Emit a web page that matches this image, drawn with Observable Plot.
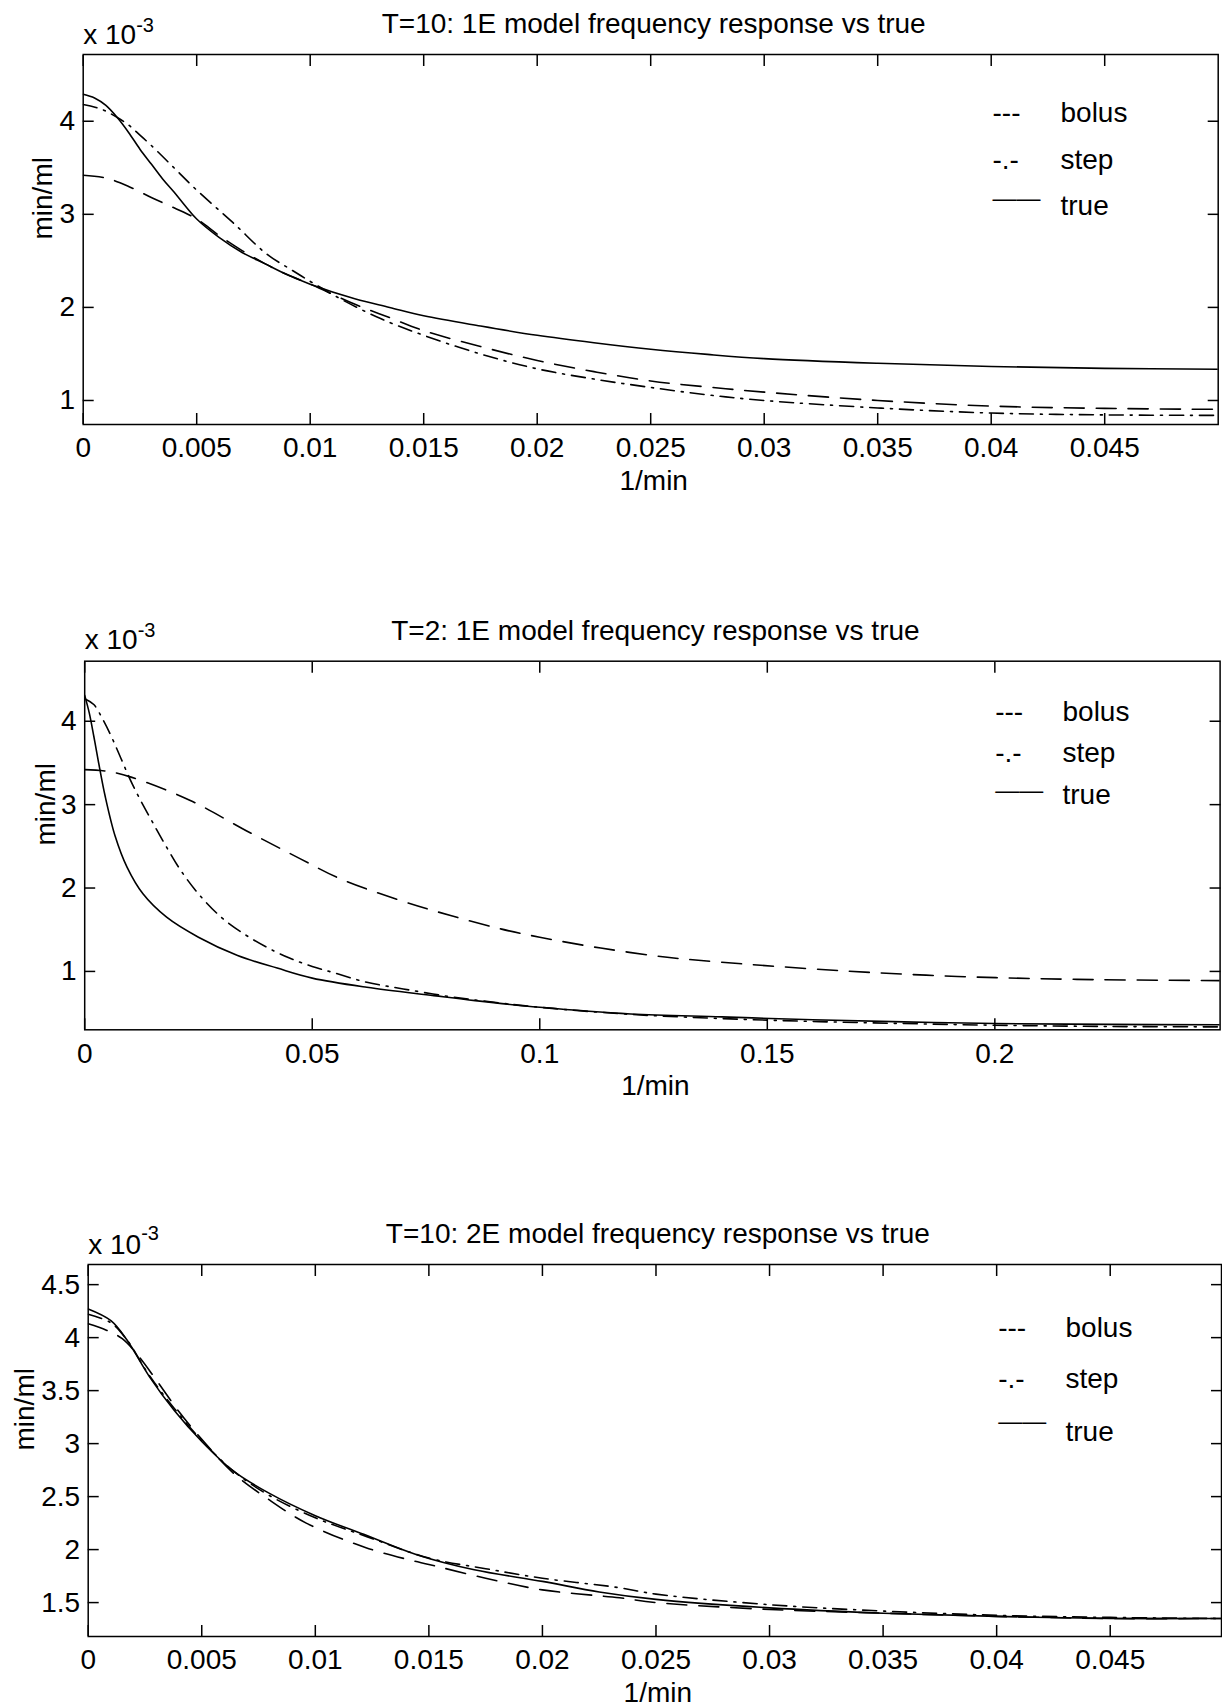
<!DOCTYPE html>
<html><head><meta charset="utf-8">
<script src="https://cdn.jsdelivr.net/npm/d3@7"></script>
<script src="https://cdn.jsdelivr.net/npm/@observablehq/plot@0.6"></script>
<style>
html,body{margin:0;padding:0;background:#fff;}
#chart{width:1222px;height:1706px;overflow:hidden;}
#chart svg{display:block;}
</style></head><body><div id="chart"></div>
<script>
// ---------- data (x in 1/min, y in 10^-3 min/ml) ----------
const seriesNames = ["bolus", "step", "true"];
const legendSymbols = ["---", "-.-"];

const titles = [
  "T=10: 1E model frequency response vs true",
  "T=2: 1E model frequency response vs true",
  "T=10: 2E model frequency response vs true"
];

const xTicks1 = [0, 0.005, 0.01, 0.015, 0.02, 0.025, 0.03, 0.035, 0.04, 0.045];
const xTicks2 = [0, 0.05, 0.1, 0.15, 0.2];
const xTicks3 = [0, 0.005, 0.01, 0.015, 0.02, 0.025, 0.03, 0.035, 0.04, 0.045];
const yTicks1 = [1, 2, 3, 4];
const yTicks2 = [1, 2, 3, 4];
const yTicks3 = [1.5, 2, 2.5, 3, 3.5, 4, 4.5];

// Panel 1: T=10, 1E model
const p1True = [[0,4.29],[0.0005,4.25],[0.001,4.17],[0.0015,4.04],[0.002,3.88],[0.0025,3.70],[0.003,3.54],[0.0035,3.38],[0.004,3.24],[0.0045,3.09],[0.005,2.95],[0.006,2.75],[0.007,2.59],[0.008,2.47],[0.009,2.35],[0.01,2.25],[0.012,2.09],[0.0135,2.00],[0.015,1.91],[0.0175,1.80],[0.02,1.70],[0.0225,1.62],[0.025,1.55],[0.0275,1.495],[0.03,1.45],[0.035,1.40],[0.04,1.365],[0.045,1.345],[0.05,1.335]];
const p1Bolus = [[0,3.42],[0.001,3.39],[0.002,3.30],[0.003,3.18],[0.004,3.07],[0.005,2.95],[0.006,2.77],[0.007,2.61],[0.008,2.47],[0.009,2.35],[0.01,2.25],[0.012,2.03],[0.0135,1.89],[0.015,1.75],[0.0175,1.58],[0.02,1.43],[0.0225,1.31],[0.025,1.21],[0.0275,1.145],[0.03,1.09],[0.035,1.00],[0.04,0.94],[0.045,0.915],[0.05,0.905]];
const p1Step = [[0,4.18],[0.0008,4.13],[0.0015,4.04],[0.002,3.96],[0.0025,3.85],[0.003,3.74],[0.004,3.50],[0.005,3.26],[0.0066,2.91],[0.0081,2.57],[0.0092,2.40],[0.0102,2.25],[0.0115,2.07],[0.0131,1.88],[0.015,1.70],[0.0175,1.50],[0.02,1.34],[0.0225,1.23],[0.025,1.14],[0.0275,1.06],[0.03,1.00],[0.035,0.92],[0.04,0.865],[0.045,0.845],[0.05,0.84]];

// Panel 2: T=2, 1E model
const p2True = [[0,4.31],[0.001,4.10],[0.002,3.82],[0.003,3.52],[0.0045,3.10],[0.0067,2.62],[0.0093,2.25],[0.0128,1.93],[0.018,1.65],[0.025,1.41],[0.0336,1.19],[0.0423,1.04],[0.05,0.92],[0.062,0.81],[0.0767,0.71],[0.0858,0.65],[0.1,0.57],[0.12,0.49],[0.14,0.455],[0.16,0.42],[0.18,0.395],[0.2,0.375],[0.225,0.365],[0.2495,0.36]];
const p2Bolus = [[0,3.42],[0.005,3.40],[0.0102,3.33],[0.0232,3.05],[0.0354,2.69],[0.0474,2.35],[0.0562,2.11],[0.0694,1.85],[0.0804,1.67],[0.0914,1.51],[0.1,1.41],[0.1134,1.28],[0.128,1.17],[0.14,1.11],[0.1657,1.01],[0.1918,0.94],[0.218,0.905],[0.2495,0.89]];
const p2Step = [[0,4.27],[0.002,4.20],[0.004,4.02],[0.006,3.80],[0.008,3.55],[0.01,3.30],[0.012,3.08],[0.015,2.78],[0.018,2.49],[0.021,2.22],[0.025,1.93],[0.03,1.65],[0.035,1.45],[0.04,1.29],[0.045,1.16],[0.05,1.06],[0.055,0.98],[0.062,0.87],[0.07,0.79],[0.08,0.70],[0.09,0.63],[0.1,0.57],[0.12,0.485],[0.14,0.435],[0.16,0.40],[0.18,0.375],[0.2,0.355],[0.225,0.34],[0.2495,0.335]];

// Panel 3: T=10, 2E model
const p3True = [[0,4.27],[0.001,4.16],[0.0017,3.98],[0.0027,3.63],[0.0038,3.31],[0.005,3.02],[0.0064,2.74],[0.0079,2.54],[0.01,2.32],[0.0123,2.13],[0.0145,1.95],[0.017,1.81],[0.02,1.70],[0.0225,1.60],[0.025,1.53],[0.03,1.45],[0.035,1.40],[0.04,1.37],[0.045,1.35],[0.0499,1.35]];
const p3Bolus = [[0,4.13],[0.0008,4.07],[0.0015,3.99],[0.0022,3.83],[0.003,3.60],[0.004,3.30],[0.005,3.04],[0.0064,2.72],[0.0079,2.48],[0.0096,2.25],[0.0122,2.02],[0.0142,1.90],[0.015,1.86],[0.0175,1.73],[0.02,1.62],[0.0234,1.545],[0.025,1.50],[0.03,1.435],[0.035,1.40],[0.04,1.37],[0.045,1.35],[0.0499,1.35]];
const p3Step = [[0,4.22],[0.001,4.14],[0.0017,3.98],[0.0027,3.64],[0.0038,3.33],[0.005,3.03],[0.0064,2.74],[0.0079,2.52],[0.01,2.30],[0.0123,2.12],[0.015,1.92],[0.0175,1.82],[0.02,1.73],[0.0234,1.64],[0.025,1.58],[0.03,1.48],[0.035,1.42],[0.04,1.38],[0.045,1.36],[0.0499,1.35]];

// ---------- layout ----------
const FONT = '"Liberation Sans", Arial, Helvetica, sans-serif';
const panels = [
  {title: titles[0], truth: p1True, bolus: p1Bolus, step: p1Step, xTicks: xTicks1, yTicks: yTicks1,
   xDomain: [0, 0.05], yDomain: [0.742, 4.717], height: 560, mt: 54, mb: 136, ml: 82.7, mr: 4.3,
   ylDx: -40, x10Dy: -11, supDy: -23, lgS: -225.7, lgT: -157.7, lgY: [67, 114.3, 160.3], lgLine: 151.5},
  {title: titles[1], truth: p2True, bolus: p2Bolus, step: p2Step, xTicks: xTicks2, yTicks: yTicks2,
   xDomain: [0, 0.2495], yDomain: [0.30, 4.72], height: 600, mt: 100.7, mb: 130.7, ml: 84.2, mr: 2.4,
   ylDx: -38.7, x10Dy: -12.4, supDy: -24.5, lgS: -224.9, lgT: -157.6, lgY: [59.3, 101, 142.6], lgLine: 137},
  {title: titles[2], truth: p3True, bolus: p3Bolus, step: p3Step, xTicks: xTicks3, yTicks: yTicks3,
   xDomain: [0, 0.0499], yDomain: [1.18, 4.69], height: 546, mt: 104, mb: 70, ml: 87.7, mr: 1,
   ylDx: -62.7, x10Dy: -10.7, supDy: -25, lgS: -223.3, lgT: -156, lgY: [72, 123.3, 176], lgLine: 164}
];

function makePanel(p) {
  const lines = [
    {data: p.bolus, dash: "20,12"},
    {data: p.step, dash: "14,7,2,7"},
    {data: p.truth, dash: undefined}
  ];
  const tl = {frameAnchor: "top-left", textAnchor: "start", lineAnchor: "bottom"};
  const tr = {frameAnchor: "top-right", textAnchor: "start", lineAnchor: "bottom"};
  return Plot.plot({
    width: 1222, height: p.height,
    marginTop: p.mt, marginBottom: p.mb, marginLeft: p.ml, marginRight: p.mr,
    x: {domain: p.xDomain},
    y: {domain: p.yDomain},
    style: {fontFamily: FONT, fontSize: "28px", color: "black", background: "white"},
    marks: [
      ...lines.map(s => Plot.line(s.data, {x: d => d[0], y: d => d[1], stroke: "black", strokeWidth: 1.6,
        strokeDasharray: s.dash, curve: "catmull-rom", clip: true})),
      Plot.frame({stroke: "black", strokeWidth: 1.5}),
      Plot.axisX(p.xTicks, {anchor: "bottom", tickSize: -11, tickPadding: 24, tickFormat: d => String(d), fontSize: 28, label: null, strokeWidth: 1.5}),
      Plot.axisX(p.xTicks, {anchor: "top", tickSize: -11, tickFormat: () => "", label: null, strokeWidth: 1.5}),
      Plot.axisY(p.yTicks, {anchor: "left", tickSize: -11, tickPadding: 19, tickFormat: d => String(d), fontSize: 28, label: null, strokeWidth: 1.5}),
      Plot.axisY(p.yTicks, {anchor: "right", tickSize: -11, tickFormat: () => "", label: null, strokeWidth: 1.5}),
      Plot.text([p.title], {frameAnchor: "top", lineAnchor: "bottom", dy: -21.5, dx: 3, fontSize: 28}),
      Plot.text(["x 10"], {...tl, dy: p.x10Dy, fontSize: 28}),
      Plot.text(["-3"], {...tl, dx: 53, dy: p.supDy, fontSize: 20}),
      Plot.text(["min/ml"], {frameAnchor: "left", rotate: -90, dx: p.ylDx, fontSize: 28}),
      Plot.text(["1/min"], {frameAnchor: "bottom", lineAnchor: "bottom", dy: 65, dx: 3, fontSize: 28}),
      Plot.text([legendSymbols[0]], {...tr, dx: p.lgS, dy: p.lgY[0], fontSize: 28}),
      Plot.text([legendSymbols[1]], {...tr, dx: p.lgS, dy: p.lgY[1], fontSize: 28}),
      Plot.text(["\u2014\u2014"], {...tr, dx: p.lgS, dy: p.lgLine, fontSize: 24}),
      Plot.text([seriesNames[0]], {...tr, dx: p.lgT, dy: p.lgY[0], fontSize: 28}),
      Plot.text([seriesNames[1]], {...tr, dx: p.lgT, dy: p.lgY[1], fontSize: 28}),
      Plot.text([seriesNames[2]], {...tr, dx: p.lgT, dy: p.lgY[2], fontSize: 28})
    ]
  });
}

const chart = document.getElementById("chart");
for (const p of panels) chart.appendChild(makePanel(p));
</script>
</body></html>
